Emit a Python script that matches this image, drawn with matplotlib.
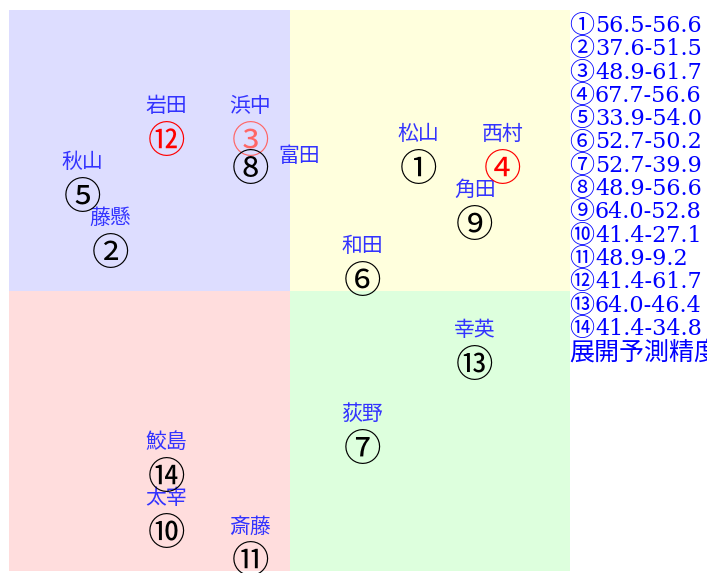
import matplotlib
matplotlib.use("Agg")
import matplotlib.pyplot as plt
from matplotlib.patches import Rectangle
from matplotlib.transforms import offset_copy

# ---------------------------------------------
# DATA
# ---------------------------------------------
numbers  = list(range(1, 15))
names    = ["松山", "藤懸", "浜中", "西村", "秋山", "和田", "荻野",
            "富田", "角田", "太宰", "斎藤", "岩田", "幸英", "鮫島"]
x_vals   = [56.5, 37.6, 48.9, 67.7, 33.9, 52.7, 52.7,
            48.9, 64.0, 41.4, 48.9, 41.4, 64.0, 41.4]
y_vals   = [56.6, 51.5, 61.7, 56.6, 54.0, 50.2, 39.9,
            56.6, 52.8, 27.1, 9.2, 61.7, 46.4, 34.8]
# cell of the 20x20 board each horse sits in
grid_col = [14, 3, 8, 17, 2, 12, 12, 8, 16, 5, 8, 5, 16, 5]
grid_row = [5, 8, 4, 5, 6, 9, 15, 5, 7, 18, 19, 4, 12, 16]
footer   = "展開予測精度"

# ---------------------------------------------
# STYLE
# ---------------------------------------------
GRID = 20
QUAD_COLORS = {"tl": "#ddddff", "tr": "#ffffdd",
               "bl": "#ffdddd", "br": "#ddffdd"}
MARK_COLOR = {3: "#ff6666", 4: "#ff0000", 12: "#ff0000"}
LABEL_DY = 1.3
LABEL_SHIFT = {8: (1.75, 0.5)}   # 富田 moved aside so it does not hit 浜中
JP = ["Noto Sans CJK JP"]
SERIF = ["DejaVu Serif", "Noto Sans CJK JP"]

W, H, DPI = 707, 573, 100
fig = plt.figure(figsize=(W / DPI, H / DPI), dpi=DPI)
ax = fig.add_axes([9 / W, (H - 571) / H, 561 / W, 561 / H])
ax.set_xlim(0, GRID)
ax.set_ylim(GRID, 0)
ax.axis("off")

half = GRID / 2
for (x0, y0), key in zip([(0, 0), (half, 0), (0, half), (half, half)],
                         ["tl", "tr", "bl", "br"]):
    ax.add_patch(Rectangle((x0, y0), half, half, color=QUAD_COLORS[key],
                           lw=0, zorder=0))

# nudge glyphs so the circle centre sits on the cell centre
shift = offset_copy(ax.transData, fig=fig, x=3, y=-6, units="dots")

for n, name, c, r in zip(numbers, names, grid_col, grid_row):
    cx, cy = c + 0.5, r + 0.5
    ax.text(cx, cy, chr(0x245F + n), ha="center", va="center",
            fontsize=27, family=JP, transform=shift,
            color=MARK_COLOR.get(n, "black"), zorder=3)
    dx, dy = LABEL_SHIFT.get(n, (0, LABEL_DY))
    ax.text(cx + dx, cy - dy, name, ha="center", va="center",
            fontsize=15, family=JP, color="#3333ff", transform=shift,
            zorder=2)

# right hand legend list
step = 23.3 / H
y0 = 1 - 26 / H
for i, (n, x, y) in enumerate(zip(numbers, x_vals, y_vals)):
    yy = y0 - i * step
    fig.text(569 / W, yy, chr(0x245F + n), ha="left", va="center",
             fontsize=18, family=JP, color="#0000ff")
    fig.text(595 / W, yy, f"{x:.1f}-{y:.1f}", ha="left", va="center",
             fontsize=16, family=SERIF, color="#0000ff")
fig.text(569 / W, y0 - len(numbers) * step, footer, ha="left", va="center",
         fontsize=18, family=JP, color="#0000ff")

fig.savefig("out.png", dpi=DPI)
